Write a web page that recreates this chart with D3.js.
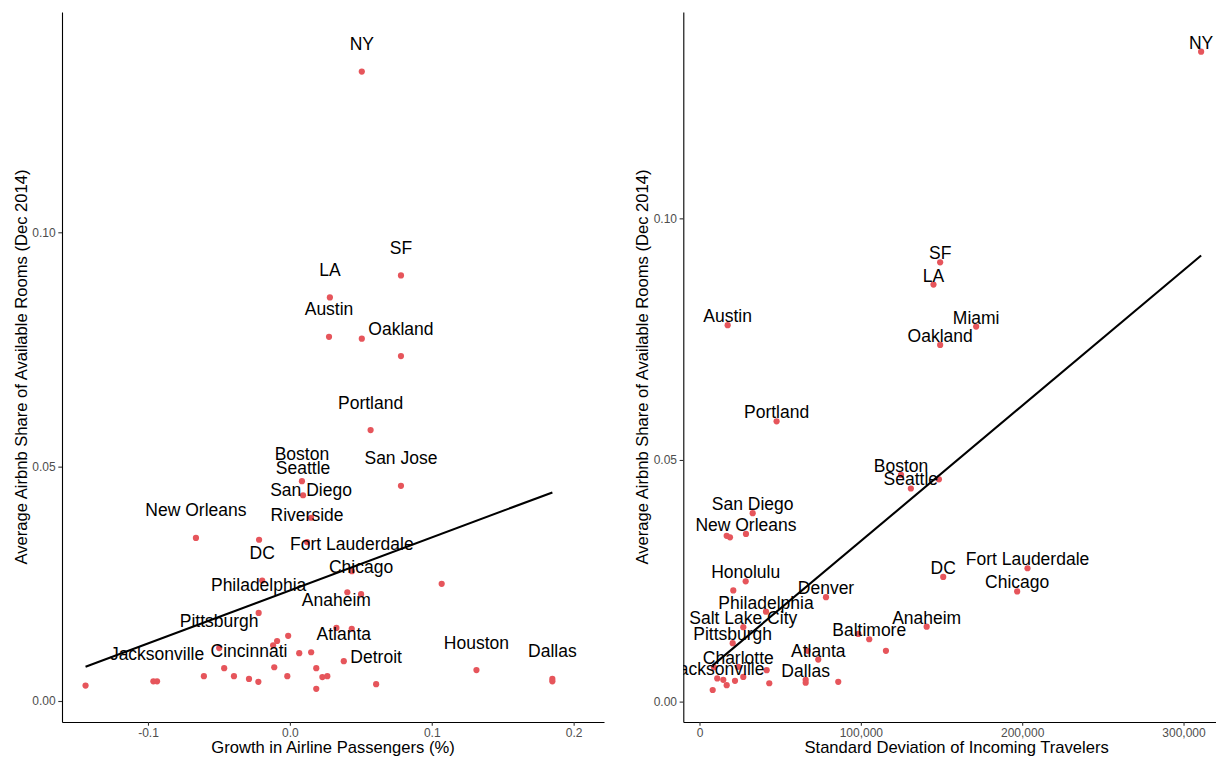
<!DOCTYPE html>
<html>
<head>
<meta charset="utf-8">
<script src="https://cdn.jsdelivr.net/npm/d3@7"></script>
<style>
  html, body { margin: 0; padding: 0; background: #ffffff; }
  svg { display: block; font-family: "Liberation Sans", Arial, Helvetica, sans-serif; }
</style>
</head>
<body>
<svg id="chart" width="1216" height="759"></svg>
<script>
// ---- Panel A: growth in airline passengers vs Airbnb share ----
const growthCities = ["NY","SF","LA","Austin","","Oakland","Portland","Boston","San Jose","Seattle",
  "San Diego","New Orleans","","Riverside","Fort Lauderdale","DC","","","Chicago","Philadelphia",
  "Anaheim","","","","","Pittsburgh","","","Atlanta","",
  "","","Houston","","","","","","Cincinnati","",
  "Dallas","","Detroit","Jacksonville","","",""];
const growthX = [0.0507,0.0783,0.0282,0.0276,0.0507,0.0783,0.0569,0.0085,0.0783,0.0093,
  0.0149,-0.0662,-0.0217,0.0121,0.0437,-0.0195,0.1070,0.0405,0.0502,-0.0220,
  0.0328,0.0436,-0.0012,-0.0090,-0.0118,-0.0498,0.0066,0.0150,0.0380,-0.0463,
  -0.0110,0.0186,0.1315,-0.0394,-0.0606,-0.0018,0.0229,0.0264,-0.0288,-0.0222,
  0.1850,0.1850,0.0608,-0.0936,-0.0962,-0.1440,0.0186];
const growthShare = [0.1343,0.0908,0.0861,0.0777,0.0773,0.0736,0.0578,0.0469,0.0459,0.0439,
  0.0391,0.0348,0.0344,0.0339,0.0277,0.0257,0.0250,0.0232,0.0228,0.0188,
  0.0156,0.0154,0.0139,0.0128,0.0119,0.0113,0.0102,0.0104,0.0085,0.0070,
  0.0072,0.0070,0.0066,0.0053,0.0053,0.0053,0.0051,0.0053,0.0047,0.0041,
  0.0047,0.0042,0.0036,0.0042,0.0042,0.0033,0.0026];
// fitted linear trend (end points)
const growthFitX = [-0.1440, 0.1850];
const growthFitY = [0.0073, 0.0445];
const growthTicksX = [-0.1, 0.0, 0.1, 0.2];

// ---- Panel B: std. deviation of incoming travelers vs Airbnb share ----
const stdevCities = ["NY","SF","LA","Austin","Miami","Oakland","Portland","Boston","","Seattle",
  "San Diego","New Orleans","","","Honolulu","","Denver","Philadelphia","Salt Lake City","Pittsburgh",
  "Charlotte","","Jacksonville","","","","","","","",
  "Dallas","","","Atlanta","","Baltimore","","","Anaheim","DC",
  "Fort Lauderdale","Chicago"];
const stdevX = [310900,149150,145030,17460,171470,149150,47780,124900,148400,131000,
  32960,28800,16850,18900,28620,20940,78400,41200,27140,20570,
  24040,8980,11000,14750,16850,8180,22000,27140,41630,43250,
  65800,65800,86000,73600,67000,105200,98400,115550,140800,151050,
  203300,196900];
const stdevShare = [0.1345,0.0909,0.0863,0.0779,0.0776,0.0738,0.0580,0.0469,0.0460,0.0441,
  0.0390,0.0347,0.0343,0.0340,0.0249,0.0230,0.0216,0.0186,0.0154,0.0121,
  0.0072,0.0071,0.0048,0.0045,0.0034,0.0024,0.0043,0.0051,0.0065,0.0038,
  0.0045,0.0039,0.0041,0.0087,0.0105,0.0129,0.0140,0.0105,0.0155,0.0258,
  0.0276,0.0228];
const stdevFitX = [8180, 310900];
const stdevFitY = [0.0075, 0.0923];
const stdevTicksX = [0, 100000, 200000, 300000];

const shareTicks = [0.00, 0.05, 0.10];
const yTitle = "Average Airbnb Share of Available Rooms (Dec 2014)";

const svg = d3.select("#chart");
const pointColor = "#E6555B";

function drawPanel(cfg) {
  const { id, xDomain, xRange, yDomain, yRange, xs, ys, names, fitX, fitY,
          ticksX, fmtX, xTitle, labelDy } = cfg;
  const x = d3.scaleLinear().domain(xDomain).range(xRange);
  const y = d3.scaleLinear().domain(yDomain).range(yRange);
  const left = xRange[0], right = xRange[1], top = yRange[1], bottom = yRange[0];

  const clipId = "clip-" + id;
  svg.append("clipPath").attr("id", clipId)
    .append("rect").attr("x", left).attr("y", top)
    .attr("width", right - left).attr("height", bottom - top);

  const g = svg.append("g").attr("clip-path", `url(#${clipId})`);
  const rows = xs.map((v, i) => ({ x: v, y: ys[i], name: names[i] }));

  g.selectAll("circle").data(rows).join("circle")
    .attr("cx", d => x(d.x)).attr("cy", d => y(d.y))
    .attr("r", 3.1).attr("fill", pointColor);

  g.selectAll("text.city").data(rows.filter(d => d.name)).join("text")
    .attr("class", "city")
    .attr("x", d => x(d.x)).attr("y", d => y(d.y) + labelDy)
    .attr("text-anchor", "middle")
    .attr("font-size", "17.5px").attr("fill", "#000")
    .text(d => d.name);

  const fit = fitX.map((v, i) => [v, fitY[i]]);
  g.append("path").datum(fit)
    .attr("d", d3.line().x(d => x(d[0])).y(d => y(d[1])))
    .attr("fill", "none").attr("stroke", "#000").attr("stroke-width", 2.1);

  // axes
  const yAxis = d3.axisLeft(y).tickValues(shareTicks).tickFormat(d3.format(".2f"))
    .tickSizeInner(3.7).tickSizeOuter(0).tickPadding(2.6);
  const xAxis = d3.axisBottom(x).tickValues(ticksX).tickFormat(fmtX)
    .tickSizeInner(3.7).tickSizeOuter(0).tickPadding(2.6);

  const ya = svg.append("g").attr("transform", `translate(${left},0)`).call(yAxis);
  const xa = svg.append("g").attr("transform", `translate(0,${bottom})`).call(xAxis);
  [ya, xa].forEach(a => {
    a.select(".domain").attr("stroke", "#000").attr("stroke-width", 1.1);
    a.selectAll(".tick line").attr("stroke", "#333").attr("stroke-width", 1.1);
    a.selectAll(".tick text").attr("fill", "#4d4d4d").attr("font-size", "12px")
      .attr("font-family", "Liberation Sans, Arial, sans-serif");
  });

  svg.append("text")
    .attr("x", (left + right) / 2).attr("y", 753)
    .attr("text-anchor", "middle").attr("font-size", "16.6px").attr("fill", "#000")
    .text(xTitle);
  svg.append("text")
    .attr("transform", `translate(${left - 35.5},${(top + bottom) / 2}) rotate(-90)`)
    .attr("text-anchor", "middle").attr("font-size", "16.6px").attr("fill", "#000")
    .text(yTitle);
}

const hyphenFmt = d => d3.format(".1f")(d).replace("\u2212", "-");

drawPanel({
  id: "growth",
  xDomain: [-0.1606, 0.2214], xRange: [62, 604],
  yDomain: [-0.00448, 0.1470], yRange: [722, 12],
  xs: growthX, ys: growthShare, names: growthCities,
  fitX: growthFitX, fitY: growthFitY,
  ticksX: growthTicksX, fmtX: hyphenFmt,
  xTitle: "Growth in Airline Passengers (%)",
  labelDy: -21.5
});

drawPanel({
  id: "stdev",
  xDomain: [-10040, 328800], xRange: [683.3, 1230],
  yDomain: [-0.00422, 0.1427], yRange: [722, 12],
  xs: stdevX, ys: stdevShare, names: stdevCities,
  fitX: stdevFitX, fitY: stdevFitY,
  ticksX: stdevTicksX, fmtX: d3.format(","),
  xTitle: "Standard Deviation of Incoming Travelers",
  labelDy: -3
});
</script>
</body>
</html>
